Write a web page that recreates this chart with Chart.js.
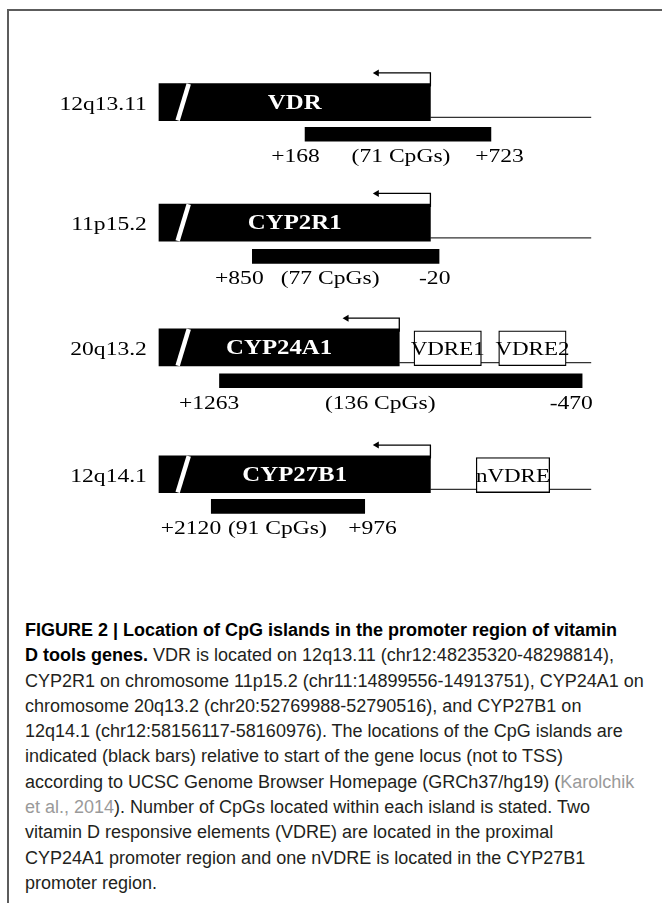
<!DOCTYPE html>
<html>
<head>
<meta charset="utf-8">
<script src="https://cdn.jsdelivr.net/npm/chart.js@4.4.1/dist/chart.umd.min.js"></script>
<style>
  html, body { margin: 0; padding: 0; background: #fff; width: 662px; height: 903px; overflow: hidden; }
  #fig { position: absolute; left: 0; top: 0; z-index: 1; }
  #frame { position: absolute; left: 7px; top: 9px; width: 700px; height: 960px; z-index: 2;
           border-left: 2px solid #5c5c5c; border-top: 2px solid #5c5c5c; pointer-events: none; }
  #cap { position: absolute; left: 25px; top: 618px; font-family: "Liberation Sans", Arial, sans-serif;
         font-size: 18px; line-height: 25.3px; color: #231f20; white-space: nowrap; }
  #cap b { color: #000; }
  #cap .ref { color: #9a9a9a; }
</style>
</head>
<body>
<canvas id="fig" width="662" height="600"></canvas>
<div id="frame"></div>
<div id="cap">
  <div><b>FIGURE 2 | Location of CpG islands in the promoter region of vitamin</b></div>
  <div><b>D tools genes.</b> VDR is located on 12q13.11 (chr12:48235320-48298814),</div>
  <div>CYP2R1 on chromosome 11p15.2 (chr11:14899556-14913751), CYP24A1 on</div>
  <div>chromosome 20q13.2 (chr20:52769988-52790516), and CYP27B1 on</div>
  <div>12q14.1 (chr12:58156117-58160976). The locations of the CpG islands are</div>
  <div>indicated (black bars) relative to start of the gene locus (not to TSS)</div>
  <div>according to UCSC Genome Browser Homepage (GRCh37/hg19) (<span class="ref">Karolchik</span></div>
  <div><span class="ref">et al., 2014</span>). Number of CpGs located within each island is stated. Two</div>
  <div>vitamin D responsive elements (VDRE) are located in the proximal</div>
  <div>CYP24A1 promoter region and one nVDRE is located in the CYP27B1</div>
  <div>promoter region.</div>
</div>
<script>
// rows of the schematic (positions are in figure units along the drawn track)
const bands = ['12q13.11', '11p15.2', '20q13.2', '12q14.1'];
const genes = ['VDR', 'CYP2R1', 'CYP24A1', 'CYP27B1'];
const geneY = [66, 208.5, 356, 506];
const geneStart = [132, 132, 132, 132];
const geneEnd = [446, 446, 410, 446];
const trackEnd = [632, 632, 632, 632];
const tssTip = [380, 380, 345, 380];

// CpG islands
const cpgY = [104, 248.5, 395.5, 544];
const cpgStart = [301, 240, 202, 192.5];
const cpgEnd = [516, 456, 621.5, 370];
const cpgFrom = ['+168', '+850', '+1263', '+2120'];
const cpgTo = ['+723', '-20', '-470', '+976'];
const cpgCount = [71, 77, 136, 91];
const fromAt = [290, 225, 190, 169];
const countAt = [412, 330, 388, 269];
const toAt = [526, 451, 609, 379];

// vitamin D responsive elements
const vdreRow = [2, 2, 3];
const vdreStart = [427, 525, 499];
const vdreEnd = [505, 603, 584];
const vdreNames = ['VDRE1', 'VDRE2', 'nVDRE'];

const BOX = 37;       // gene box height
const HALF = BOX / 2;
const STRETCH = 1.24; // the figure's serif type is drawn wide

const datasets = [];

// slashes (break marks) drawn on top
geneY.forEach(y => {
  datasets.push({
    type: 'line', order: 0,
    data: [{ x: 153.6, y: y + HALF + 3 }, { x: 166.4, y: y - HALF - 3 }],
    borderColor: '#fff', borderWidth: 4.5, pointRadius: 0, borderCapStyle: 'butt'
  });
});

datasets.push({
  type: 'bar', order: 2, indexAxis: 'y', grouped: false,
  data: genes.map((g, i) => ({ y: geneY[i], x: [geneStart[i], geneEnd[i]] })),
  backgroundColor: '#000', barThickness: BOX, borderWidth: 0, borderSkipped: false
});

datasets.push({
  type: 'bar', order: 2, indexAxis: 'y', grouped: false,
  data: cpgY.map((y, i) => ({ y: y, x: [cpgStart[i], cpgEnd[i]] })),
  backgroundColor: '#000', barThickness: 14, borderWidth: 0, borderSkipped: false
});

datasets.push({
  type: 'bar', order: 1, indexAxis: 'y', grouped: false,
  data: vdreRow.map((r, i) => ({ y: geneY[r] + 1, x: [vdreStart[i], vdreEnd[i]] })),
  backgroundColor: '#fff', borderColor: '#000', borderWidth: 1.3, barThickness: 35, borderSkipped: false
});

// track lines and TSS arrows
geneY.forEach((y, i) => {
  datasets.push({
    type: 'line', order: 3,
    data: [{ x: geneEnd[i], y: y + HALF - 0.5 }, { x: trackEnd[i], y: y + HALF - 0.5 }],
    borderColor: '#333', borderWidth: 1.2, pointRadius: 0
  });
  const top = y - HALF;
  datasets.push({
    type: 'line', order: 3,
    data: [{ x: geneEnd[i], y: top }, { x: geneEnd[i], y: top - 16 }, { x: tssTip[i] + 4, y: top - 16 }],
    borderColor: '#000', borderWidth: 1.3,
    pointRadius: [0, 0, 4], pointStyle: 'triangle', rotation: 270,
    pointBackgroundColor: '#000', pointBorderWidth: 0
  });
});

const figureText = {
  id: 'figureText',
  afterDatasetsDraw(chart) {
    const { ctx, scales: { x, y } } = chart;
    const put = (str, px, py, font, color, align) => {
      ctx.save();
      ctx.font = font;
      ctx.fillStyle = color;
      ctx.textAlign = align || 'center';
      ctx.textBaseline = 'alphabetic';
      ctx.translate(x.getPixelForValue(px), y.getPixelForValue(py));
      ctx.scale(STRETCH, 1);
      ctx.fillText(str, 0, 0);
      ctx.restore();
    };
    const serif = '"Liberation Serif", "Times New Roman", serif';
    geneY.forEach((gy, i) => {
      put(bands[i], 118, gy + 9, '19px ' + serif, '#000', 'right');
      put(genes[i], (geneStart[i] + geneEnd[i]) / 2, gy + 8, 'bold 20px ' + serif, '#fff');
    });
    cpgY.forEach((cy, i) => {
      const base = cy + 33;
      put(cpgFrom[i], fromAt[i], base, '19px ' + serif, '#000');
      put('(' + cpgCount[i] + ' CpGs)', countAt[i], base, '19px ' + serif, '#000');
      put(cpgTo[i], toAt[i], base, '19px ' + serif, '#000');
    });
    vdreRow.forEach((r, i) => {
      put(vdreNames[i], (vdreStart[i] + vdreEnd[i]) / 2, geneY[r] + 9, '18.5px ' + serif, '#000');
    });
  }
};

new Chart(document.getElementById('fig'), {
  type: 'bar',
  data: { datasets: datasets },
  options: {
    responsive: false,
    animation: false,
    devicePixelRatio: 1,
    layout: { padding: 0 },
    scales: {
      x: { type: 'linear', min: 0, max: 662, display: false },
      y: { type: 'linear', min: 0, max: 600, reverse: true, display: false }
    },
    plugins: { legend: { display: false }, tooltip: { enabled: false } }
  },
  plugins: [figureText]
});
</script>
</body>
</html>
